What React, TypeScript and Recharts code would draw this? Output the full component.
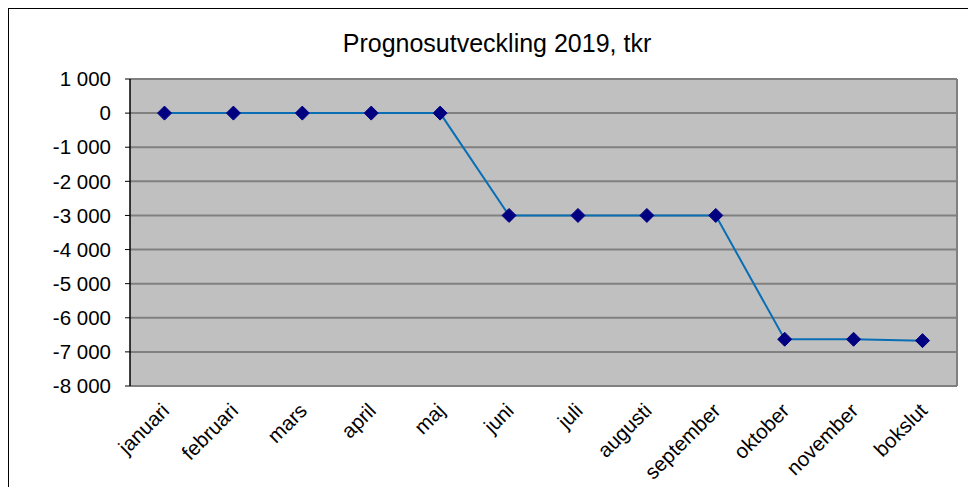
import React from "react";
import {
  LineChart,
  Line,
  XAxis,
  YAxis,
  CartesianGrid,
} from "recharts";

const categories = [
  "januari",
  "februari",
  "mars",
  "april",
  "maj",
  "juni",
  "juli",
  "augusti",
  "september",
  "oktober",
  "november",
  "bokslut",
];
const prognos = [0, 0, 0, 0, 0, -3000, -3000, -3000, -3000, -6630, -6630, -6670];
const yTicks = [1000, 0, -1000, -2000, -3000, -4000, -5000, -6000, -7000, -8000];
const title = "Prognosutveckling 2019, tkr";

const data = categories.map((c, i) => ({ name: c, value: prognos[i] }));

const fmt = (v: number) => {
  const s = Math.abs(v).toString().replace(/\B(?=(\d{3})+(?!\d))/g, " ");
  return (v < 0 ? "-" : "") + s;
};

const FONT = "'Liberation Sans', Arial, sans-serif";

const Diamond = (props: any) => {
  const { cx, cy } = props;
  if (cx == null || cy == null) return null;
  const r = 7;
  return (
    <polygon
      points={`${cx},${cy - r} ${cx + r},${cy} ${cx},${cy + r} ${cx - r},${cy}`}
      fill="#000080"
      stroke="#000080"
    />
  );
};

const XTick = (props: any) => {
  const { x, y, payload } = props;
  const ax = x + 6;
  const ay = y + 18;
  return (
    <text
      x={ax}
      y={ay}
      transform={`rotate(-45, ${ax}, ${ay})`}
      textAnchor="end"
      fontSize={20.5}
      fontFamily={FONT}
      fill="#000"
    >
      {payload.value}
    </text>
  );
};

export default function App() {
  return (
    <div
      style={{
        position: "relative",
        width: 966,
        height: 490,
        border: "1px solid #000",
        background: "#fff",
      }}
    >
      <div
        style={{
          position: "absolute",
          left: 0,
          width: 976,
          top: 20,
          textAlign: "center",
          fontFamily: FONT,
          fontSize: 25,
          color: "#000",
        }}
      >
        {title}
      </div>
      <LineChart
        width={966}
        height={490}
        data={data}
        margin={{ top: 70, right: 17, left: 0, bottom: 0 }}
      >
        <CartesianGrid
          horizontal={true}
          vertical={false}
          fill="#C0C0C0"
          fillOpacity={1}
          stroke="#808080"
          strokeWidth={2}
        />
        <XAxis
          dataKey="name"
          axisLine={{ stroke: "#808080", strokeWidth: 2 }}
          tickLine={false}
          tick={<XTick />}
          interval={0}
          height={113}
          padding={{ left: 34.5, right: 34.5 }}
        />
        <YAxis
          domain={[-8000, 1000]}
          ticks={yTicks}
          tickFormatter={fmt}
          interval={0}
          width={121}
          axisLine={{ stroke: "#000", strokeWidth: 1.5 }}
          tickLine={{ stroke: "#000" }}
          tickSize={5}
          tickMargin={14}
          tick={{ fontSize: 20.5, fontFamily: FONT, fill: "#000" }}
        />
        <YAxis
          yAxisId="right"
          orientation="right"
          domain={[-8000, 1000]}
          tick={false}
          tickLine={false}
          width={1}
          axisLine={{ stroke: "#808080", strokeWidth: 2 }}
        />
        <Line
          type="linear"
          dataKey="value"
          stroke="#0A6EB4"
          strokeWidth={2}
          dot={<Diamond />}
          activeDot={false}
          isAnimationActive={false}
        />
      </LineChart>
    </div>
  );
}
